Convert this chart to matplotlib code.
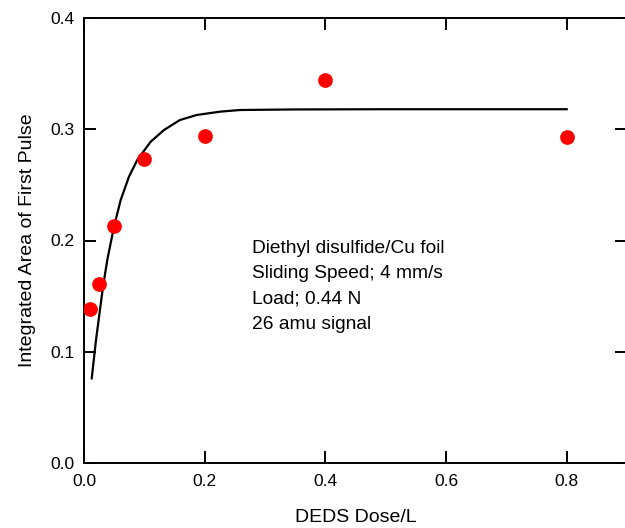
import matplotlib
matplotlib.use("Agg")
from matplotlib import pyplot as plt

plt.rcParams['font.family'] = ['Liberation Sans', 'DejaVu Sans']

# measured points
dose = [0.01, 0.025, 0.05, 0.1, 0.2, 0.4, 0.8]
area = [0.138, 0.161, 0.213, 0.273, 0.294, 0.344, 0.293]

# fitted curve
fit_x = [0.0128, 0.0199, 0.0315, 0.0386, 0.0497, 0.0608, 0.0745, 0.0883,
         0.1105, 0.1325, 0.159, 0.1867, 0.2253, 0.2584, 0.35, 0.5, 0.8]
fit_y = [0.0761, 0.1106, 0.1585, 0.1825, 0.2124, 0.2364, 0.2573, 0.2724,
         0.2888, 0.2993, 0.3083, 0.3128, 0.3158, 0.3173, 0.3178, 0.318, 0.318]

xticks = [0.0, 0.2, 0.4, 0.6, 0.8]
yticks = [0.0, 0.1, 0.2, 0.3, 0.4]

notes = ["Diethyl disulfide/Cu foil",
         "Sliding Speed; 4 mm/s",
         "Load; 0.44 N",
         "26 amu signal"]

fig = plt.figure(figsize=(6.25, 5.28), dpi=100)
ax = fig.add_axes([84 / 625, 65 / 528, 543 / 625, 445 / 528])

ax.plot(fit_x, fit_y, color='black', lw=1.6, zorder=2)
ax.plot(dose, area, 'o', color='#ff0000', markersize=10.6, mec='none', zorder=3)

ax.set_xlim(0, 0.9)
ax.set_ylim(0, 0.4)
ax.set_xticks(xticks)
ax.set_yticks(yticks)
ax.set_xticklabels([f'{v:.1f}' for v in xticks])
ax.set_yticklabels([f'{v:.1f}' for v in yticks])

for s in ax.spines.values():
    s.set_linewidth(1.4)
ax.tick_params(direction='in', length=8.6, width=1.4, labelsize=12.5,
               top=True, right=True, pad=8)
ax.tick_params(axis='y', pad=7)

ax.set_xlabel('DEDS Dose/L', fontsize=14, labelpad=14)
ax.set_ylabel('Integrated Area of First Pulse', fontsize=14, labelpad=10)

for i, line in enumerate(notes):
    ax.text(0.309, 0.502 - i * 0.057, line, transform=ax.transAxes,
            fontsize=13.8, va='top', ha='left')

fig.savefig('out.png', dpi=100)
